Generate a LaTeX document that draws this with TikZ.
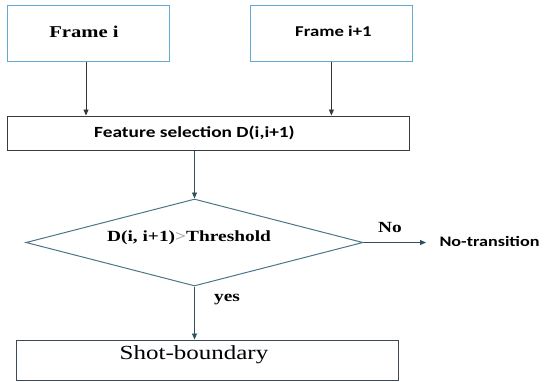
\documentclass[tikz,border=0pt]{standalone}
\usepackage{fontspec}
\setmainfont{Liberation Serif}[FakeStretch=1.25]
\newfontfamily\calfont{Carlito}[FakeStretch=1.25]
\usetikzlibrary{shapes.geometric,arrows.meta,calc}

\definecolor{framecol}{HTML}{62AAD4}
\definecolor{boxcol}{HTML}{3A3A3A}
\definecolor{diacol}{HTML}{4D7488}
\definecolor{arrcolA}{HTML}{3B3333}
\definecolor{arrcolB}{HTML}{2E4F5E}
\definecolor{shotcol}{HTML}{3E4A55}

\tikzset{
  x=1pt, y=1pt,
  framebox/.style={draw=framecol, line width=1pt, rectangle, inner sep=0pt,
    minimum width=162pt, minimum height=55.5pt},
  procbox/.style={draw=boxcol, line width=1pt, rectangle, inner sep=0pt},
  decision/.style={draw=diacol, line width=1pt, diamond, inner sep=0pt,
    aspect=3.87, minimum width=337pt, minimum height=87pt},
  flow/.style={line width=0.9pt, -{Triangle[length=6pt,width=5pt]}},
  serifbold/.style={font=\fontsize{15.5}{18}\selectfont\bfseries},
  sansbold/.style={font=\fontsize{15.5}{18}\selectfont\calfont\bfseries},
}

\begin{document}
\begin{tikzpicture}
  \useasboundingbox (0,0) rectangle (544,-381);

  % input frames
  \node[framebox] (fi)  at (88.5,-33.25) {};
  \node[font=\fontsize{16.5}{18}\selectfont\bfseries] (fitext) at ($(fi.center)+(-4.5,1.5)$) {Frame i};
  \node[framebox] (fi1) at (331.4,-33.25) {};
  \node[font=\fontsize{15}{17}\selectfont\calfont\bfseries] (fi1text) at ($(fi1.center)+(2,1.5)$) {Frame i+1};

  % feature selection
  \node[procbox, minimum width=402pt, minimum height=34pt] (feat) at (208,-133) {};
  \node[sansbold] (feattext) at ($(feat.center)+(-13.5,0)$) {Feature selection D(i,i+1)};

  % decision
  \node[decision] (dia) at (194.5,-242.5) {};
  \node[serifbold] (diatext) at ($(dia.center)+(-5.5,4.5)$) {D(i, i+1)\textcolor{gray!70}{>}Threshold};

  % outcomes
  \node[font=\fontsize{14.5}{17}\selectfont\calfont\bfseries, anchor=west] (notrans) at (436,-241) {No-transition};
  \node[procbox, draw=shotcol, minimum width=382pt, minimum height=40pt] (shot) at (207,-360) {};
  \node[font=\fontsize{20}{22}\selectfont] (shottext) at ($(shot.center)+(-13,5.5)$) {Shot-boundary};

  % connectors
  \draw[flow, arrcolA] ($(fi.south)+(-2.5,0)$) -- ($(fi.south |- feat.north)+(-2.5,0)$);
  \draw[flow, arrcolA] (fi1.south) -- (fi1.south |- feat.north);
  \draw[flow, arrcolB] (dia.north |- feat.south) -- (dia.north);
  \draw[flow, arrcolB] (dia.east) -- ($(notrans.west)+(-10,-1.5)$) coordinate (noend);
  \draw[flow, arrcolB] (dia.south) -- (dia.south |- shot.north);

  % branch labels
  \node[serifbold] (nolabel) at (390,-227) {No};
  \node[serifbold] (yeslabel) at (227,-300) {yes};
\end{tikzpicture}
\end{document}
